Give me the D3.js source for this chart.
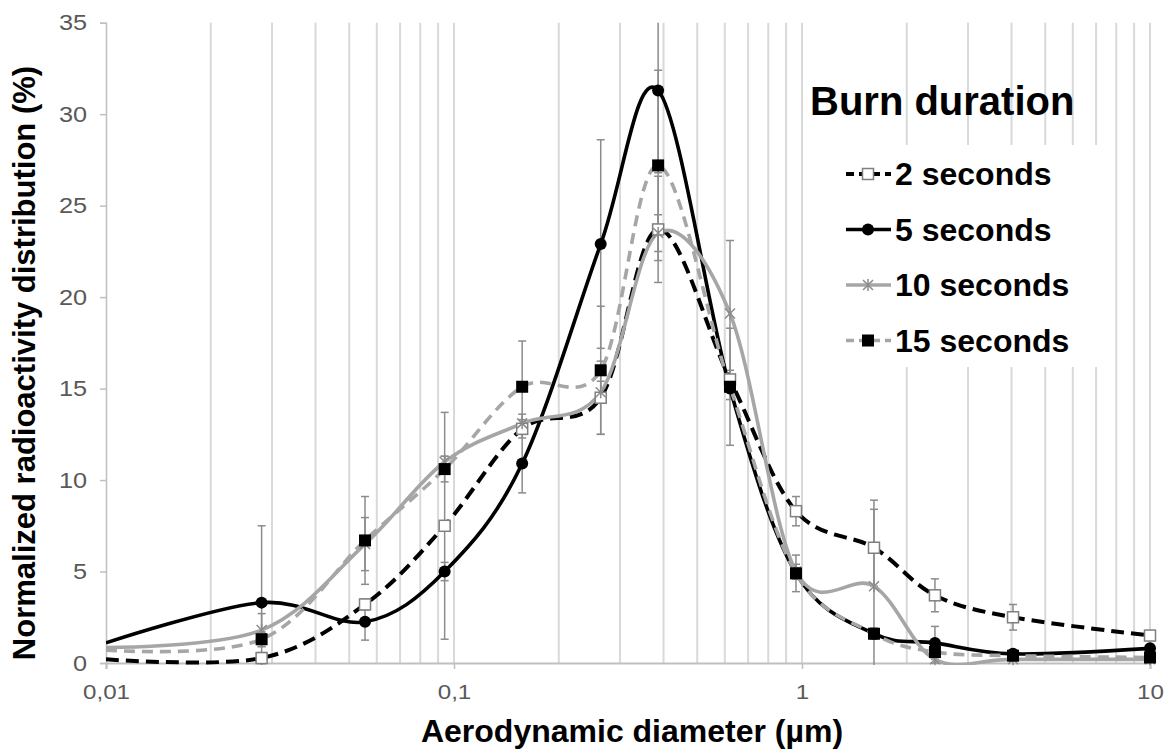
<!DOCTYPE html>
<html>
<head>
<meta charset="utf-8">
<script src="https://cdn.jsdelivr.net/npm/d3@7"></script>
<style>
  html, body { margin: 0; padding: 0; background: #fff; }
  svg { display: block; font-family: Arial, "Liberation Sans", sans-serif; }
</style>
</head>
<body>
<svg id="chart" width="1171" height="749"></svg>
<script>
// ---------------- data ----------------
const diameters = [0.01, 0.028, 0.0555, 0.094, 0.157, 0.264, 0.386, 0.621, 0.961, 1.61, 2.41, 4.04, 10];
const seriesLabels = ["2 seconds", "5 seconds", "10 seconds", "15 seconds"];
const values2s  = [0.2, 0.27, 3.2, 7.5, 12.8, 14.5, 23.7, 15.5, 8.3, 6.3, 3.7, 2.5, 1.5];
const values5s  = [1.1, 3.3, 2.25, 5.0, 10.9, 22.9, 31.3, 15.0, 4.9, 1.6, 1.1, 0.5, 0.8];
const values10s = [0.85, 1.8, 6.5, 11.0, 13.1, 14.8, 23.5, 19.1, 5.0, 4.2, 0.2, 0.2, 0.2];
const values15s = [0.7, 1.3, 6.7, 10.6, 15.1, 16.0, 27.2, 15.1, 4.9, 1.6, 0.6, 0.4, 0.3];
const errors2s  = [null, 0.3, 0.3, 6.2, 0.5, 2.0, 2.9, 0.5, 0.8, 2.1, 0.9, 0.7, 0.2];
const errors5s  = [null, 4.2, 1.0, 0.5, 1.6, 5.7, 4.5, 0.6, 1.0, 0.3, 0.9, 0.2, 0.2];
const errors10s = [null, 0.9, 1.45, 0.3, 0.5, 0.6, 1.0, 4.0, 0.4, 4.7, 0.2, 0.1, 0.1];
const errors15s = [null, 0.4, 2.4, 0.7, 2.5, 3.5, 5.2, 3.2, 0.3, 0.3, 0.3, 0.1, 0.1];
const xTickValues = [0.01, 0.1, 1, 10];
const xTickLabels = ["0,01", "0,1", "1", "10"];
const yTickValues = [0, 5, 10, 15, 20, 25, 30, 35];
const legendTitle = "Burn duration";
const xTitle = "Aerodynamic diameter (µm)";
const yTitle = "Normalized radioactivity distribution (%)";

// ---------------- layout ----------------
const svg = d3.select("#chart");
const L = 106, R = 1150, T = 22.7, B = 663;
const x = d3.scaleLog().domain([0.01, 10]).range([L, R]);
const y = d3.scaleLinear().domain([0, 35]).range([B, T]);

svg.append("defs").append("clipPath").attr("id", "plotclip")
  .append("rect").attr("x", L).attr("y", T).attr("width", R - L + 8).attr("height", B - T + 2);

// gridlines (minor log positions)
const gridVals = [];
for (let d = 0.01; d < 10; d *= 10) for (let k = 2; k <= 10; k++) gridVals.push(+(d * k).toPrecision(3));
svg.append("g").selectAll("line").data(gridVals).join("line")
  .attr("x1", d => x(d)).attr("x2", d => x(d))
  .attr("y1", T).attr("y2", B)
  .attr("stroke", "#d9d9d9").attr("stroke-width", 2);

// legend background box (covers gridlines)
svg.append("rect").attr("x", 830).attr("y", 145).attr("width", 275).attr("height", 222).attr("fill", "#fff");

function stretchText(sel, k) {
  sel.each(function() {
    const t = d3.select(this);
    const x0 = +t.attr("x") || 0;
    t.attr("transform", `translate(${x0},0) scale(${k},1) translate(${-x0},0)`);
  });
}

// y axis
const yAxis = svg.append("g").attr("transform", `translate(${L},0)`)
  .call(d3.axisLeft(y).tickValues(yTickValues).tickSize(6).tickPadding(13));
yAxis.select(".domain").attr("stroke", "#bfbfbf").attr("stroke-width", 1.5);
yAxis.selectAll(".tick line").attr("stroke", "#bfbfbf").attr("stroke-width", 1.5);
yAxis.selectAll(".tick text").attr("font-size", 22).attr("fill", "#595959").attr("font-family", "Arial, 'Liberation Sans', sans-serif");
stretchText(yAxis.selectAll(".tick text"), 1.15);

// x axis
const xAxis = svg.append("g").attr("transform", `translate(0,${B})`)
  .call(d3.axisBottom(x).tickValues(xTickValues).tickFormat((d, i) => xTickLabels[i]).tickSize(6).tickPadding(15));
xAxis.select(".domain").attr("stroke", "#bfbfbf").attr("stroke-width", 2);
xAxis.selectAll(".tick line").attr("stroke", "#bfbfbf").attr("stroke-width", 1.5);
xAxis.selectAll(".tick text").attr("font-size", 21).attr("fill", "#595959").attr("font-family", "Arial, 'Liberation Sans', sans-serif");
stretchText(xAxis.selectAll(".tick text"), 1.15);

// titles
svg.append("text").attr("x", 632).attr("y", 742).attr("text-anchor", "middle")
  .attr("font-size", 32).attr("font-weight", "bold").attr("fill", "#000").text(xTitle);
svg.append("text").attr("transform", "translate(35,363) rotate(-90)").attr("text-anchor", "middle")
  .attr("font-size", 31).attr("font-weight", "bold").attr("fill", "#000").text(yTitle);

// series definitions
const series = [
  { label: seriesLabels[0], values: values2s,  errors: errors2s,  color: "#000",    width: 4,   dash: "13,7", marker: "openSquare" },
  { label: seriesLabels[1], values: values5s,  errors: errors5s,  color: "#000",    width: 3.6, dash: null,   marker: "circle" },
  { label: seriesLabels[2], values: values10s, errors: errors10s, color: "#a6a6a6", width: 3.6, dash: null,   marker: "asterisk" },
  { label: seriesLabels[3], values: values15s, errors: errors15s, color: "#a6a6a6", width: 3.6, dash: "11,7", marker: "filledSquare" }
];

const plot = svg.append("g").attr("clip-path", "url(#plotclip)");

// error bars
const errG = plot.append("g");
series.forEach(s => {
  s.values.forEach((v, i) => {
    const e = s.errors[i];
    if (e == null) return;
    const cx = x(diameters[i]);
    errG.append("line").attr("x1", cx).attr("x2", cx).attr("y1", y(v - e)).attr("y2", y(v + e))
      .attr("stroke", "#8c8c8c").attr("stroke-width", 1.5);
    [v - e, v + e].forEach(ev => {
      errG.append("line").attr("x1", cx - 4).attr("x2", cx + 4).attr("y1", y(ev)).attr("y2", y(ev))
        .attr("stroke", "#8c8c8c").attr("stroke-width", 1.5);
    });
  });
});

// lines (smoothed like a spreadsheet "smoothed line")
const line = d3.line().x((d, i) => x(diameters[i])).y(d => y(d)).curve(d3.curveCatmullRom.alpha(0));
series.forEach(s => {
  plot.append("path").datum(s.values).attr("d", line)
    .attr("fill", "none").attr("stroke", s.color).attr("stroke-width", s.width)
    .attr("stroke-dasharray", s.dash).attr("stroke-linejoin", "round");
});

function drawMarker(g, type, cx, cy) {
  if (type === "openSquare") {
    g.append("rect").attr("x", cx - 5.5).attr("y", cy - 5.5).attr("width", 11).attr("height", 11)
      .attr("fill", "#fff").attr("stroke", "#7f7f7f").attr("stroke-width", 1.5);
  } else if (type === "circle") {
    g.append("circle").attr("cx", cx).attr("cy", cy).attr("r", 6).attr("fill", "#000");
  } else if (type === "asterisk") {
    const r = 5;
    const p = `M${cx - r},${cy - r}L${cx + r},${cy + r}M${cx - r},${cy + r}L${cx + r},${cy - r}M${cx},${cy - r - 1}L${cx},${cy + r + 1}`;
    g.append("path").attr("d", p).attr("stroke", "#8c8c8c").attr("stroke-width", 1.5).attr("fill", "none");
  } else if (type === "filledSquare") {
    g.append("rect").attr("x", cx - 6).attr("y", cy - 6).attr("width", 12).attr("height", 12).attr("fill", "#000");
  }
}

// markers (the point at the axis edge 0,01 carries no marker)
const mk = svg.append("g");
series.forEach(s => {
  s.values.forEach((v, i) => {
    if (i === 0) return;
    drawMarker(mk, s.marker, x(diameters[i]), y(v));
  });
});

// legend
svg.append("text").attr("x", 810).attr("y", 115).attr("font-size", 40).attr("font-weight", "bold")
  .attr("fill", "#000").text(legendTitle);
const legY = [174, 229.5, 285, 340.5];
series.forEach((s, i) => {
  const g = svg.append("g");
  g.append("line").attr("x1", 846).attr("x2", 891).attr("y1", legY[i]).attr("y2", legY[i])
    .attr("stroke", s.color).attr("stroke-width", s.width)
    .attr("stroke-dasharray", s.dash ? "8,5" : null);
  drawMarker(g, s.marker, 868, legY[i]);
  g.append("text").attr("x", 895).attr("y", legY[i] + 11).attr("font-size", 32).attr("font-weight", "bold")
    .attr("fill", "#000").text(s.label);
});
</script>
</body>
</html>
